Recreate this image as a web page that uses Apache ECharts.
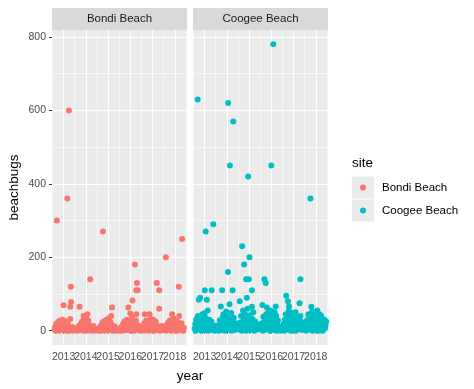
<!DOCTYPE html>
<html>
<head>
<meta charset="utf-8">
<script src="https://cdn.jsdelivr.net/npm/echarts@6/dist/echarts.min.js"></script>
<style>
html,body{margin:0;padding:0;background:#fff;}
#chart{width:474px;height:389px;}
</style>
</head>
<body>
<div id="chart"></div>
<script>
// ---- data (year as decimal, beachbugs) ----
const sites = ["Bondi Beach", "Coogee Beach"];
const siteColors = ["#F8766D", "#00BFC4"];
const yearTicks = [2013, 2014, 2015, 2016, 2017, 2018];
const yearLabelsOdd = [2013, 2015, 2017];
const yearLabelsEven = [2014, 2016, 2018];
const yearMinor = [2012.5, 2013.5, 2014.5, 2015.5, 2016.5, 2017.5, 2018.5];
const bugTicks = [0, 200, 400, 600, 800];
const bugMinor = [100, 300, 500, 700];

const bondiHigh = [[2012.70,300],[2013.24,600],[2013.17,360],[2013.33,120],[2013.34,78],[2013.00,69],[2013.30,65],[2013.72,65],[2013.30,32],[2014.20,140],[2014.07,45],[2013.90,40],[2014.77,270],[2015.18,63],[2015.14,40],[2015.91,63],[2016.00,47],[2016.21,180],[2016.30,130],[2016.27,110],[2016.33,110],[2016.10,82],[2016.27,45],[2016.65,45],[2016.87,45],[2017.19,130],[2017.30,110],[2017.30,60],[2017.60,200],[2017.88,45],[2018.18,120],[2018.20,40],[2018.33,250]];

const bondiLow = [
[2012.60,3],[2012.62,10],[2012.64,0],[2012.66,18],[2012.68,6],[2012.72,2],[2012.74,14],[2012.76,24],[2012.78,8],[2012.80,0],[2012.82,12],[2012.84,28],[2012.86,5],[2012.88,16],[2012.90,2],[2012.92,22],[2012.94,9],[2012.96,30],[2012.98,4],[2013.02,20],[2013.04,1],[2013.06,12],[2013.08,26],[2013.10,6],[2013.12,15],[2013.14,0],[2013.16,9],[2013.19,18],[2013.21,3],[2013.23,11],[2013.26,0],[2013.28,7],[2013.36,2],[2013.40,10],[2013.44,0],[2013.50,4],[2013.56,1],
[2013.60,6],[2013.64,0],[2013.68,12],[2013.70,3],[2013.74,8],[2013.77,18],[2013.79,2],[2013.81,10],[2013.83,25],[2013.85,5],[2013.87,14],[2013.89,0],[2013.92,30],[2013.94,8],[2013.96,20],[2013.98,2],[2014.00,35],[2014.02,12],[2014.04,4],[2014.06,22],[2014.09,9],[2014.11,28],[2014.13,1],[2014.15,16],[2014.17,6],[2014.22,11],[2014.24,0],[2014.27,8],[2014.30,3],[2014.34,13],[2014.38,0],[2014.43,5],[2014.50,2],[2014.56,0],
[2014.60,4],[2014.64,10],[2014.67,0],[2014.70,15],[2014.73,6],[2014.75,22],[2014.79,2],[2014.81,12],[2014.83,26],[2014.85,0],[2014.87,9],[2014.89,18],[2014.92,4],[2014.94,30],[2014.96,11],[2014.98,1],[2015.00,20],[2015.02,7],[2015.04,34],[2015.06,14],[2015.08,3],[2015.10,24],[2015.12,8],[2015.16,16],[2015.20,0],[2015.23,10],[2015.26,4],[2015.30,12],[2015.34,0],[2015.39,6],[2015.44,2],[2015.52,0],
[2015.58,3],[2015.62,12],[2015.65,0],[2015.68,18],[2015.71,5],[2015.74,25],[2015.77,9],[2015.79,1],[2015.81,15],[2015.84,30],[2015.86,6],[2015.88,20],[2015.93,2],[2015.95,12],[2015.97,26],[2016.02,8],[2016.04,0],[2016.06,18],[2016.08,35],[2016.12,4],[2016.14,14],[2016.16,22],[2016.18,0],[2016.23,10],[2016.25,28],[2016.29,6],[2016.35,15],[2016.38,2],[2016.41,9],[2016.45,0],[2016.50,5],
[2016.55,2],[2016.58,10],[2016.61,0],[2016.63,20],[2016.67,6],[2016.70,14],[2016.72,28],[2016.74,3],[2016.77,18],[2016.79,8],[2016.82,0],[2016.84,24],[2016.89,12],[2016.91,4],[2016.93,32],[2016.95,16],[2016.97,1],[2016.99,22],[2017.01,7],[2017.03,30],[2017.05,11],[2017.07,0],[2017.09,19],[2017.11,5],[2017.14,25],[2017.16,9],[2017.21,14],[2017.24,2],[2017.27,10],[2017.33,0],[2017.37,6],[2017.42,13],[2017.47,1],
[2017.55,4],[2017.58,12],[2017.62,0],[2017.65,16],[2017.68,6],[2017.71,22],[2017.74,2],[2017.76,10],[2017.78,28],[2017.80,5],[2017.82,15],[2017.85,0],[2017.90,20],[2017.92,8],[2017.94,34],[2017.96,3],[2017.98,14],[2018.00,24],[2018.02,1],[2018.04,10],[2018.06,18],[2018.08,5],[2018.10,26],[2018.12,0],[2018.14,12],[2018.16,7],[2018.22,15],[2018.24,2],[2018.27,9],[2018.30,20],[2018.35,4],[2018.38,0],[2018.41,8]
];

const coogeeHigh = [[2012.69,630],[2016.09,780],[2014.06,620],[2014.29,570],[2014.14,450],[2016.00,450],[2014.96,420],[2017.76,360],[2013.05,270],[2013.39,290],[2014.69,230],[2015.02,200],[2014.78,180],[2014.05,160],[2014.87,140],[2014.99,140],[2015.69,140],[2015.75,130],[2017.31,140],[2012.74,84],[2012.80,90],[2013.01,110],[2013.32,110],[2013.79,110],[2014.26,110],[2013.10,84],[2015.13,110],[2014.90,90],[2014.58,80],[2013.73,66],[2014.12,72],[2016.67,95],[2016.75,80],[2016.80,66],[2017.27,75],[2017.80,65],[2015.13,65],[2015.60,70],[2015.80,63],[2016.20,66],[2015.96,55],[2016.15,50],[2013.01,48],[2018.17,45],[2017.67,45],[2017.31,40]];

const coogeeLow = [
[2012.55,5],[2012.58,18],[2012.60,0],[2012.62,30],[2012.64,10],[2012.66,22],[2012.68,3],[2012.70,40],[2012.72,14],[2012.76,26],[2012.78,6],[2012.82,35],[2012.84,12],[2012.86,0],[2012.88,20],[2012.90,45],[2012.92,8],[2012.94,28],[2012.96,2],[2012.98,16],[2013.00,38],[2013.03,10],[2013.05,24],[2013.07,4],[2013.09,32],[2013.12,15],[2013.14,55],[2013.16,0],[2013.18,20],[2013.20,8],[2013.22,30],[2013.25,12],[2013.28,2],[2013.30,25],[2013.35,6],[2013.42,14],[2013.46,0],[2013.52,9],
[2013.58,4],[2013.62,15],[2013.65,0],[2013.68,28],[2013.70,8],[2013.75,20],[2013.77,2],[2013.81,35],[2013.83,12],[2013.85,45],[2013.87,5],[2013.89,24],[2013.91,0],[2013.93,32],[2013.95,15],[2013.97,52],[2013.99,8],[2014.01,26],[2014.03,40],[2014.08,3],[2014.10,18],[2014.16,30],[2014.18,10],[2014.20,48],[2014.22,0],[2014.24,22],[2014.28,6],[2014.31,35],[2014.33,14],[2014.36,2],[2014.40,20],[2014.44,5],[2014.48,12],
[2014.55,3],[2014.60,22],[2014.62,8],[2014.64,40],[2014.66,0],[2014.71,15],[2014.73,55],[2014.75,30],[2014.77,5],[2014.80,25],[2014.82,45],[2014.84,10],[2014.86,0],[2014.88,35],[2014.92,18],[2014.94,60],[2014.97,6],[2015.00,28],[2015.04,42],[2015.06,12],[2015.08,2],[2015.10,20],[2015.15,32],[2015.17,8],[2015.19,50],[2015.22,15],[2015.24,0],[2015.27,25],[2015.31,6],[2015.35,18],[2015.40,3],[2015.45,10],
[2015.55,6],[2015.58,20],[2015.62,0],[2015.64,38],[2015.66,12],[2015.71,26],[2015.73,3],[2015.77,45],[2015.79,15],[2015.82,30],[2015.84,5],[2015.86,22],[2015.88,52],[2015.90,9],[2015.92,36],[2015.94,0],[2015.98,18],[2016.02,28],[2016.04,6],[2016.06,42],[2016.08,14],[2016.11,33],[2016.13,2],[2016.17,24],[2016.19,10],[2016.22,40],[2016.24,0],[2016.27,16],[2016.30,28],[2016.33,5],[2016.37,12],[2016.42,0],[2016.46,8],
[2016.52,4],[2016.56,18],[2016.58,0],[2016.61,30],[2016.63,10],[2016.65,45],[2016.69,22],[2016.71,3],[2016.73,35],[2016.77,14],[2016.79,55],[2016.82,6],[2016.84,28],[2016.86,40],[2016.88,0],[2016.90,18],[2016.92,48],[2016.94,10],[2016.96,32],[2016.98,2],[2017.00,24],[2017.02,38],[2017.04,8],[2017.07,20],[2017.09,50],[2017.11,0],[2017.14,28],[2017.17,12],[2017.20,36],[2017.23,4],[2017.25,18],[2017.29,8],[2017.34,25],[2017.38,2],[2017.43,10],
[2017.50,5],[2017.54,16],[2017.57,0],[2017.60,28],[2017.62,8],[2017.65,20],[2017.69,40],[2017.71,3],[2017.73,14],[2017.78,32],[2017.82,10],[2017.84,52],[2017.86,0],[2017.88,24],[2017.90,38],[2017.92,6],[2017.94,18],[2017.96,45],[2017.98,12],[2018.00,30],[2018.02,2],[2018.05,22],[2018.07,55],[2018.09,8],[2018.11,35],[2018.13,0],[2018.15,18],[2018.20,26],[2018.22,5],[2018.25,40],[2018.28,12],[2018.31,0],[2018.34,20],[2018.38,30],[2018.41,6],[2018.44,15],[2018.47,25]
];

// ---- layout ----
const FONT = "Liberation Sans, Arial, Helvetica, sans-serif";
const PANEL_W = 135, PANEL_TOP = 30, PANEL_H = 315;
const panelLeft = [52, 193];
const STRIP_H = 22;
const X_MIN = 2012.48, X_MAX = 2018.55;
const Y_MIN = -39, Y_MAX = 819;

const chart = echarts.init(document.getElementById('chart'), null, {renderer: 'canvas'});

const grids = panelLeft.map(l => ({
  left: l, top: PANEL_TOP, width: PANEL_W, height: PANEL_H,
  show: true, backgroundColor: '#EBEBEB', borderWidth: 0, containLabel: false
}));

const xLabelStyle = {color: '#4D4D4D', fontSize: 10.5, fontFamily: FONT, margin: 7,
  hideOverlap: false, showMinLabel: true, showMaxLabel: true,
  formatter: v => String(Math.round(v))};

function xMajor(i) {
  return {
    type: 'value', gridIndex: i, min: X_MIN, max: X_MAX, position: 'bottom',
    axisLine: {show: false},
    axisTick: {show: true, length: 3, lineStyle: {color: '#333333', width: 1}, customValues: yearTicks},
    axisLabel: Object.assign({show: true, customValues: yearLabelsOdd}, xLabelStyle),
    splitLine: {show: true, lineStyle: {color: '#FFFFFF', width: 1.1}}
  };
}
function xEvenLabels(i) {
  return {
    type: 'value', gridIndex: i, min: X_MIN, max: X_MAX, position: 'bottom', offset: 0,
    axisLine: {show: false},
    axisTick: {show: false, customValues: yearLabelsEven},
    axisLabel: Object.assign({show: true, customValues: yearLabelsEven}, xLabelStyle),
    splitLine: {show: false}
  };
}
function xMinor(i) {
  return {
    type: 'value', gridIndex: i, min: X_MIN, max: X_MAX, position: 'top',
    axisLine: {show: false},
    axisTick: {show: false, customValues: yearMinor},
    axisLabel: {show: false, customValues: yearMinor},
    splitLine: {show: true, lineStyle: {color: '#FFFFFF', width: 0.55}}
  };
}
function yMajor(i) {
  return {
    type: 'value', gridIndex: i, min: Y_MIN, max: Y_MAX, position: 'left',
    axisLine: {show: false},
    axisTick: {show: i === 0, length: 3, lineStyle: {color: '#333333', width: 1}, customValues: bugTicks},
    axisLabel: {show: i === 0, customValues: bugTicks, color: '#4D4D4D', fontSize: 10.5, fontFamily: FONT, margin: 6,
      showMinLabel: true, showMaxLabel: true},
    splitLine: {show: true, lineStyle: {color: '#FFFFFF', width: 1.1}},
    name: i === 0 ? 'beachbugs' : '',
    nameLocation: 'middle', nameRotate: 90, nameGap: 31,
    nameTextStyle: {color: '#000000', fontSize: 13.5, fontFamily: FONT}
  };
}
function yMinor(i) {
  return {
    type: 'value', gridIndex: i, min: Y_MIN, max: Y_MAX, position: 'right',
    axisLine: {show: false},
    axisTick: {show: false, customValues: bugMinor},
    axisLabel: {show: false, customValues: bugMinor},
    splitLine: {show: true, lineStyle: {color: '#FFFFFF', width: 0.55}}
  };
}

const siteData = [bondiLow.concat(bondiHigh), coogeeLow.concat(coogeeHigh)];

const graphics = [];
panelLeft.forEach((l, i) => {
  graphics.push({type: 'rect', left: l, top: PANEL_TOP - STRIP_H, shape: {x: 0, y: 0, width: PANEL_W, height: STRIP_H}, style: {fill: '#D9D9D9'}, silent: true});
  graphics.push({type: 'text', x: l + PANEL_W / 2, y: PANEL_TOP - STRIP_H / 2, style: {text: sites[i], fill: '#1A1A1A', font: '11.5px ' + FONT, textAlign: 'center', textVerticalAlign: 'middle'}, silent: true});
});
// x axis title
graphics.push({type: 'text', x: (panelLeft[0] + panelLeft[1] + PANEL_W) / 2, y: 376, style: {text: 'year', fill: '#000000', font: '13.5px ' + FONT, textAlign: 'center', textVerticalAlign: 'middle'}, silent: true});
// legend title and key backgrounds
graphics.push({type: 'text', x: 352, y: 163, style: {text: 'site', fill: '#000000', font: '13.5px ' + FONT, textAlign: 'left', textVerticalAlign: 'middle'}, silent: true});
graphics.push({type: 'rect', shape: {x: 352, y: 176.5, width: 22, height: 22}, style: {fill: '#EBEBEB'}, silent: true, z: -1});
graphics.push({type: 'rect', shape: {x: 352, y: 199.5, width: 22, height: 22}, style: {fill: '#EBEBEB'}, silent: true, z: -1});

const option = {
  backgroundColor: '#FFFFFF',
  animation: false,
  grid: grids,
  xAxis: [xMajor(0), xMajor(1), xMinor(0), xMinor(1), xEvenLabels(0), xEvenLabels(1)],
  yAxis: [yMajor(0), yMajor(1), yMinor(0), yMinor(1)],
  legend: {
    data: sites, orient: 'vertical', left: 360, top: 180.5, padding: 0,
    icon: 'circle', itemWidth: 6, itemHeight: 6, itemGap: 9,
    textStyle: {color: '#000000', fontSize: 11.5, fontFamily: FONT, lineHeight: 14, padding: [0, 0, 0, 11]},
    selectedMode: false
  },
  graphic: graphics,
  series: sites.map((s, i) => ({
    name: s, type: 'scatter', xAxisIndex: i, yAxisIndex: i,
    symbol: 'circle', symbolSize: 6,
    itemStyle: {color: siteColors[i], opacity: 1},
    emphasis: {disabled: true},
    data: siteData[i], z: 3
  }))
};
chart.setOption(option);
</script>
</body>
</html>
